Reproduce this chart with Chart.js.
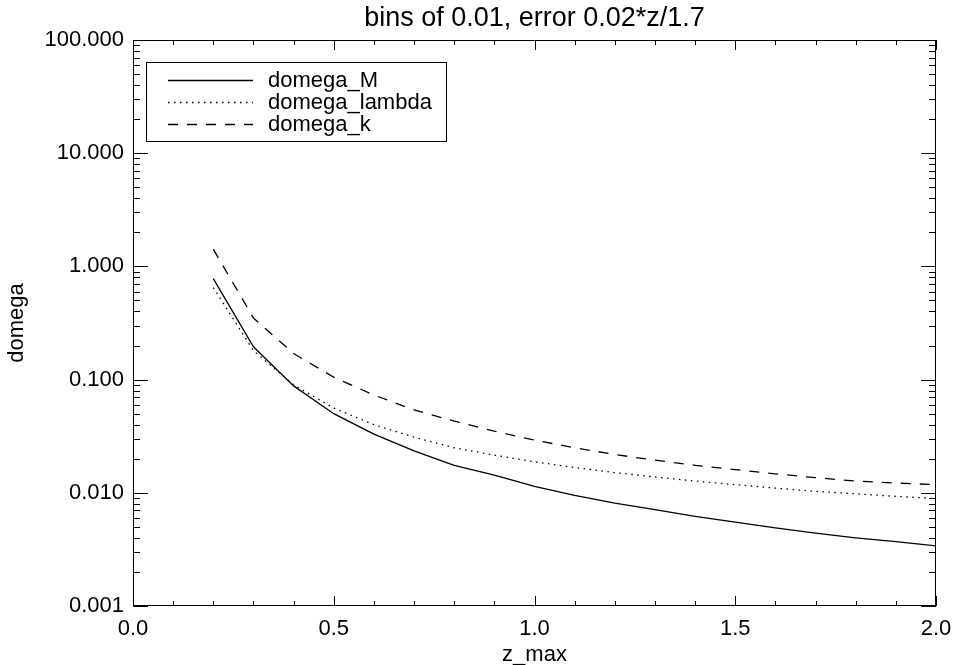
<!DOCTYPE html>
<html>
<head>
<meta charset="utf-8">
<script src="https://cdn.jsdelivr.net/npm/chart.js@4"></script>
<style>
  html, body { margin: 0; padding: 0; background: #fff; }
  #plot { display: block; }
</style>
</head>
<body>
<canvas id="plot" width="953" height="665"></canvas>
<script>
// data (19 redshift bins)
const zMax = [0.2, 0.3, 0.4, 0.5, 0.6, 0.7, 0.8, 0.9, 1.0, 1.1, 1.2, 1.3, 1.4, 1.5, 1.6, 1.7, 1.8, 1.9, 2.0];
const domegaM = [0.78, 0.195, 0.088, 0.050, 0.033, 0.0235, 0.0175, 0.0143, 0.0114, 0.0095, 0.0081, 0.0071, 0.0062, 0.0055, 0.0049, 0.0044, 0.0040, 0.0037, 0.0034];
const domegaLambda = [0.65, 0.18, 0.090, 0.056, 0.040, 0.031, 0.025, 0.0215, 0.0188, 0.0167, 0.0151, 0.0138, 0.0127, 0.0118, 0.0110, 0.0103, 0.0098, 0.0093, 0.0089];
const domegaK = [1.42, 0.35, 0.170, 0.105, 0.073, 0.054, 0.043, 0.035, 0.0292, 0.0250, 0.0218, 0.0194, 0.0175, 0.0160, 0.0147, 0.0136, 0.0127, 0.0122, 0.0118];

const seriesLabels = ['domega_M', 'domega_lambda', 'domega_k'];
const xTicks = [0, 0.5, 1.0, 1.5, 2.0];
const yTicks = [0.001, 0.01, 0.1, 1, 10, 100];

const FONT = '"Liberation Sans", Arial, Helvetica, sans-serif';

function pts(ys) {
  return zMax.map((z, i) => ({ x: z, y: ys[i] }));
}

// IDL style frame with inward ticks on all four sides
const idlAxes = {
  id: 'idlAxes',
  afterDatasetsDraw(chart) {
    const { ctx, chartArea: a, scales: { x, y } } = chart;
    ctx.save();
    ctx.strokeStyle = '#000';
    ctx.lineWidth = 1;
    ctx.beginPath();
    ctx.rect(a.left + 0.5, a.top + 0.5, a.right - a.left - 1, a.bottom - a.top - 1);
    // x: minor every 0.1, major every 0.5
    for (let i = 0; i <= 20; i++) {
      const px = Math.round(x.getPixelForValue(i / 10)) + 0.5;
      const len = i % 5 === 0 ? 10 : 5;
      ctx.moveTo(px, a.bottom); ctx.lineTo(px, a.bottom - len);
      ctx.moveTo(px, a.top); ctx.lineTo(px, a.top + len);
    }
    // y: log decades with 2..9 minors
    for (let e = -3; e <= 2; e++) {
      for (let m = 1; m <= 9; m++) {
        if (e === 2 && m > 1) break;
        const py = Math.round(y.getPixelForValue(m * Math.pow(10, e))) + 0.5;
        const len = m === 1 ? 15 : 7;
        ctx.moveTo(a.left, py); ctx.lineTo(a.left + len, py);
        ctx.moveTo(a.right, py); ctx.lineTo(a.right - len, py);
      }
    }
    ctx.stroke();
    ctx.restore();
  }
};

// boxed legend in the upper left of the plot
const boxLegend = {
  id: 'boxLegend',
  afterDraw(chart) {
    const { ctx, chartArea: a } = chart;
    const x0 = a.left + 13, y0 = a.top + 22, w = 300, h = 79;
    ctx.save();
    ctx.strokeStyle = '#000';
    ctx.lineWidth = 1;
    ctx.strokeRect(x0 + 0.5, y0 + 0.5, w, h);
    ctx.font = '22px ' + FONT;
    ctx.fillStyle = '#000';
    ctx.textBaseline = 'middle';
    chart.data.datasets.forEach((ds, i) => {
      const ly = y0 + 18 + i * 22;
      ctx.setLineDash(ds.borderDash || []);
      ctx.lineWidth = ds.borderWidth;
      ctx.beginPath();
      ctx.moveTo(x0 + 22, ly + 0.5);
      ctx.lineTo(x0 + 107, ly + 0.5);
      ctx.stroke();
      ctx.setLineDash([]);
      ctx.fillText(ds.label, x0 + 122, ly + 1);
    });
    ctx.restore();
  }
};

const lineStyle = { borderColor: '#000', borderWidth: 1.3, pointRadius: 0, tension: 0, fill: false };

new Chart(document.getElementById('plot').getContext('2d'), {
  type: 'line',
  data: {
    datasets: [
      { ...lineStyle, label: seriesLabels[0], data: pts(domegaM), borderDash: [] },
      { ...lineStyle, label: seriesLabels[1], data: pts(domegaLambda), borderDash: [1.5, 4.5] },
      { ...lineStyle, label: seriesLabels[2], data: pts(domegaK), borderDash: [10, 9] }
    ]
  },
  options: {
    responsive: false,
    animation: false,
    layout: { padding: { left: 0, right: 17, top: 0, bottom: 0 } },
    plugins: {
      legend: { display: false },
      tooltip: { enabled: false },
      title: {
        display: true,
        fullSize: false,
        text: 'bins of 0.01, error 0.02*z/1.7',
        color: '#000',
        font: { family: FONT, size: 27, weight: 'normal' },
        padding: { top: 2, bottom: 5.6 }
      }
    },
    scales: {
      x: {
        type: 'linear',
        min: 0, max: 2,
        afterBuildTicks: s => { s.ticks = xTicks.map(v => ({ value: v })); },
        afterFit: s => { s.height = 59; s.paddingLeft = 0; s.paddingRight = 0; },
        grid: { display: false, drawTicks: false },
        border: { display: false },
        ticks: {
          color: '#000', padding: 10, maxRotation: 0, autoSkip: false,
          font: { family: FONT, size: 22 },
          callback: v => Number(v).toFixed(1)
        },
        title: {
          display: true, text: 'z_max', color: '#000',
          font: { family: FONT, size: 22 },
          padding: { top: 0, bottom: -3 }
        }
      },
      y: {
        type: 'logarithmic',
        min: 0.001, max: 100,
        afterBuildTicks: s => { s.ticks = yTicks.map(v => ({ value: v })); },
        afterFit: s => { s.width = 133; s.paddingTop = 0; s.paddingBottom = 0; },
        grid: { display: false, drawTicks: false },
        border: { display: false },
        ticks: {
          color: '#000', padding: 9, autoSkip: false,
          font: { family: FONT, size: 22 },
          callback: v => Number(v).toFixed(3)
        },
        title: {
          display: true, text: 'domega', color: '#000',
          font: { family: FONT, size: 22 },
          padding: { top: 4, bottom: 4 }
        }
      }
    }
  },
  plugins: [idlAxes, boxLegend]
});
</script>
</body>
</html>
